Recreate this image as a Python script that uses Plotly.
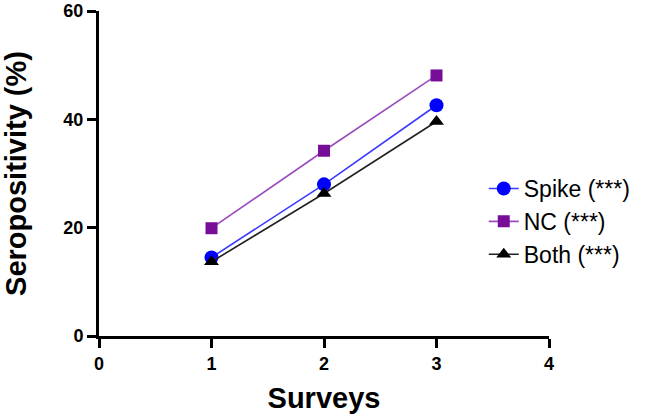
import plotly.graph_objects as go

surveys = [1, 2, 3]
spike = [14.5, 28.0, 42.6]
nc = [19.9, 34.2, 48.1]
both = [13.7, 26.3, 39.6]

x_ticks = [0, 1, 2, 3, 4]
y_ticks = [0, 20, 40, 60]

FONT = "Liberation Sans, Arial"

fig = go.Figure()
fig.add_trace(go.Scatter(x=surveys, y=spike, name="Spike (***)", mode="lines+markers",
                         line=dict(color="#3a3aff", width=1.6),
                         marker=dict(symbol="circle", size=14, color="#0000ff")))
fig.add_trace(go.Scatter(x=surveys, y=nc, name="NC (***)", mode="lines+markers",
                         line=dict(color="#9a4bbf", width=1.6),
                         marker=dict(symbol="square", size=12, color="#770e98")))
fig.add_trace(go.Scatter(x=surveys, y=both, name="Both (***)", mode="lines+markers",
                         line=dict(color="#222222", width=1.6),
                         marker=dict(symbol="triangle-up", size=13, color="#000000")))

axis_common = dict(showgrid=False, zeroline=False, showline=True, linecolor="black",
                   linewidth=3, ticks="outside", ticklen=9, tickwidth=3, tickcolor="black",
                   ticklabeloverflow="allow",
                   tickfont=dict(family=FONT, size=18, color="black", weight="bold"))

fig.update_xaxes(range=[0, 4], tickvals=x_ticks, ticktext=[str(v) for v in x_ticks],
                 title=dict(text="<b>Surveys</b>", font=dict(family=FONT, size=29, color="black"), standoff=16),
                 **axis_common)
fig.update_yaxes(range=[0, 60], tickvals=y_ticks, ticktext=[str(v) for v in y_ticks],
                 title=dict(text="<b>Seropositivity (%)</b>", font=dict(family=FONT, size=29, color="black"), standoff=34),
                 **axis_common)

fig.update_layout(
    width=645, height=417,
    margin=dict(l=99, r=96, t=11, b=81, autoexpand=False),
    plot_bgcolor="white", paper_bgcolor="white",
    legend=dict(x=0.855, y=0.52, xanchor="left", yanchor="top",
                font=dict(family=FONT, size=23, color="black"),
                bgcolor="rgba(0,0,0,0)", tracegroupgap=0, itemwidth=30),
    showlegend=True,
)

fig.write_html("out.html", config={"displayModeBar": False},
               post_script="document.body.style.margin='0';document.body.style.padding='0';")
